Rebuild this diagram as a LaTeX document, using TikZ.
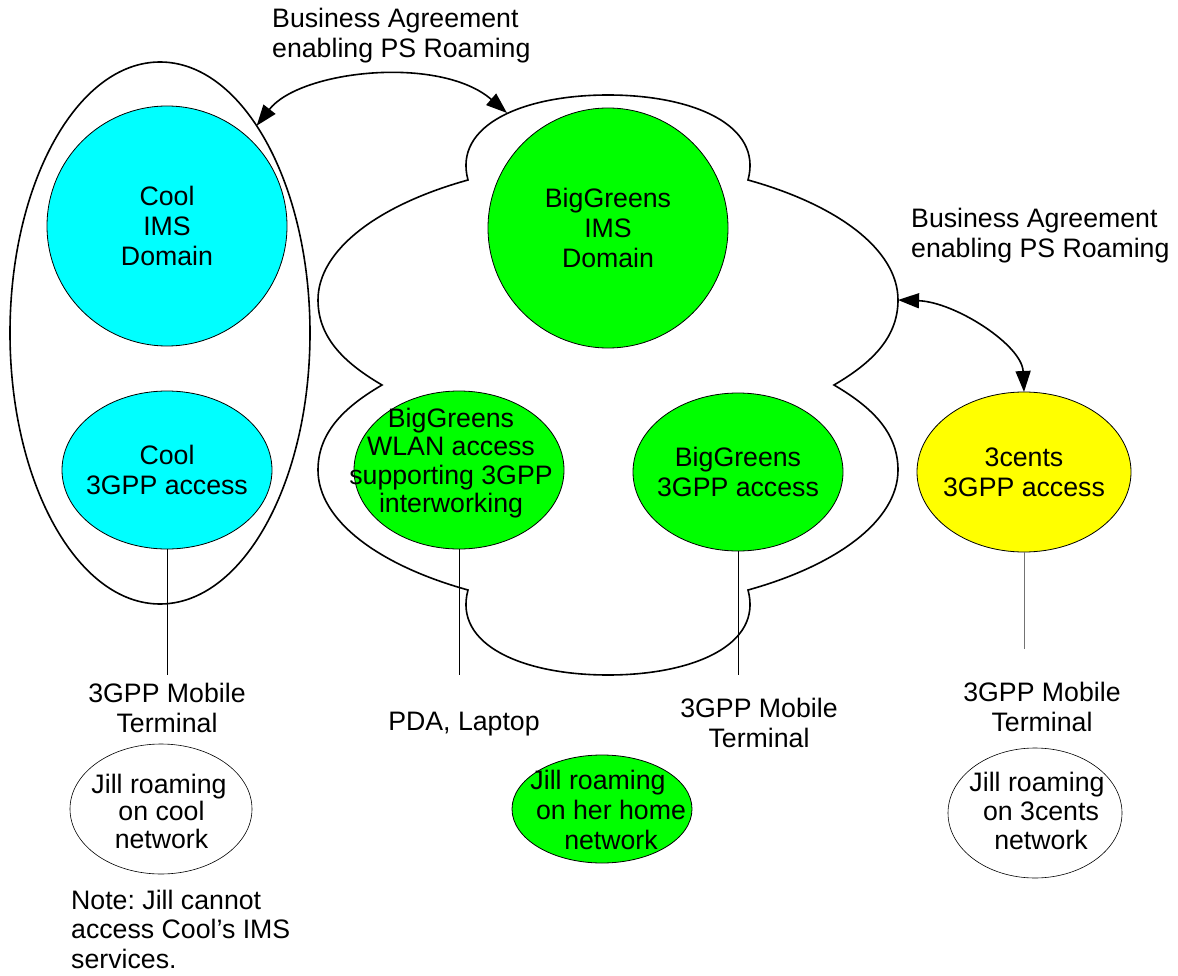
\documentclass[tikz,border=0pt]{standalone}
\usepackage{fontspec}
\setmainfont{Liberation Sans}
\usetikzlibrary{shapes.geometric,arrows.meta}
\definecolor{coolcyan}{RGB}{0,255,255}
\definecolor{biggreen}{RGB}{0,255,0}
\definecolor{centsyellow}{RGB}{255,255,0}
\newcommand\diagfont[1]{\fontsize{26.7}{#1}\selectfont\frenchspacing}
\begin{document}
\begin{tikzpicture}[x=1pt,y=-1pt,
  outline/.style={draw,line width=1.6pt},
  area/.style={ellipse,draw,line width=0.8pt,inner sep=0pt,outer sep=0pt},
  txt/.style={font=\diagfont{30},align=center,inner sep=0pt},
  link/.style={line width=0.9pt},
  roam/.style={line width=1.6pt,
    {Triangle[length=21pt,width=15pt]}-{Triangle[length=21pt,width=15pt]}}]
\useasboundingbox (0,0) rectangle (1178,976);

% Cool network boundary
\node[ellipse,outline,inner sep=0pt,outer sep=0pt,
      minimum width=300pt,minimum height=542pt] (coolnet) at (160,333) {};

% BigGreens network boundary (cloud)
\begin{scope}[shift={(608,385)}]
\draw[outline]
  (-140,-205) .. controls (-155,-260) and (-85,-290) .. (0,-290)
  .. controls (85,-290) and (155,-260) .. (140,-205)
  .. controls (230,-180) and (290,-135) .. (290,-85)
  .. controls (290,-45) and (260,-20) .. (226,0)
  .. controls (260,20) and (290,45) .. (290,85)
  .. controls (290,135) and (230,180) .. (140,205)
  .. controls (155,260) and (85,290) .. (0,290)
  .. controls (-85,290) and (-155,260) .. (-140,205)
  .. controls (-230,180) and (-290,135) .. (-290,85)
  .. controls (-290,45) and (-260,20) .. (-226,0)
  .. controls (-260,-20) and (-290,-45) .. (-290,-85)
  .. controls (-290,-135) and (-230,-180) .. (-140,-205) -- cycle;
\end{scope}
\coordinate (cloudtop) at (507,113);
\coordinate (cloudright) at (898,300);

% Domains and access networks
\node[area,fill=coolcyan,minimum width=240pt,minimum height=240pt] (coolims) at (167,226) {};
\node[txt] (coolimsT) at (coolims) {Cool\\IMS\\Domain};
\node[area,fill=coolcyan,minimum width=210pt,minimum height=158pt] (coolacc) at (167,470) {};
\node[txt] (coolaccT) at (coolacc) {Cool\\3GPP access};

\node[area,fill=biggreen,minimum width=240pt,minimum height=240pt] (bgims) at (608,228) {};
\node[txt] (bgimsT) at (bgims) {BigGreens\\IMS\\Domain};
\node[area,fill=biggreen,minimum width=210pt,minimum height=158pt] (wlan) at (459,470) {};
\node[txt,font=\diagfont{28.5}] (wlanT) at ([xshift=-8pt,yshift=7pt]wlan.center) {BigGreens\\WLAN access\\supporting 3GPP\\interworking};
\node[area,fill=biggreen,minimum width=210pt,minimum height=158pt] (bgacc) at (738,472) {};
\node[txt] (bgaccT) at (bgacc) {BigGreens\\3GPP access};

\node[area,fill=centsyellow,minimum width=214pt,minimum height=160pt] (cents) at (1024,472) {};
\node[txt] (centsT) at (cents) {3cents\\3GPP access};

% Roaming agreements
\draw[roam] (coolnet.65) .. controls (300,70) and (440,55) .. (cloudtop);
\draw[roam] (cloudright) .. controls (955,302) and (1022,345) .. (cents.north);
\node[txt,align=left,anchor=west] (agree1) at (272,36) {Business Agreement\\enabling PS Roaming};
\node[txt,align=left,anchor=west] (agree2) at (911,236) {Business Agreement\\enabling PS Roaming};

% Terminals
\coordinate (coolend) at (167,675);
\coordinate (wlanend) at (459,675);
\coordinate (bgaccend) at (738,675);
\coordinate (centsend) at (1024,649);
\draw[link] (coolacc.south) -- (coolend);
\draw[link] (wlan.south) -- (wlanend);
\draw[link] (bgacc.south) -- (bgaccend);
\draw[link,black!55] (cents.south) -- (centsend);

\node[txt] (termcool) at (167,708) {3GPP Mobile\\Terminal};
\node[txt] (termpda) at (464,724) {PDA, Laptop};
\node[txt] (termbg) at (759,723) {3GPP Mobile\\Terminal};
\node[txt] (termcents) at (1042,707) {3GPP Mobile\\Terminal};

% Where Jill roams
\node[area,line width=0.6pt,minimum width=182pt,minimum height=130pt] (jillcool) at (161,809) {};
\node[txt,font=\diagfont{27.5}] (jillcoolT) at (159,811) {Jill roaming\\\hspace*{5pt}on cool\\\hspace*{5pt}network};
\node[area,fill=biggreen,minimum width=180pt,minimum height=108pt] (jillhome) at (602,809) {};
\node[txt,font=\diagfont{30}] (jillhomeT) at (598,810) {Jill roaming\\\hspace*{26pt}on her home\\\hspace*{26pt}network};
\node[area,line width=0.6pt,minimum width=174pt,minimum height=130pt] (jillcents) at (1035,813) {};
\node[txt,font=\diagfont{29}] (jillcentsT) at (1037,811) {Jill roaming\\\hspace*{8pt}on 3cents\\\hspace*{8pt}network};

\node[txt,align=left,anchor=west,font=\diagfont{29.5}] (note) at (71,929) {Note: Jill cannot\\access Cool’s IMS\\services.};
\end{tikzpicture}
\end{document}
